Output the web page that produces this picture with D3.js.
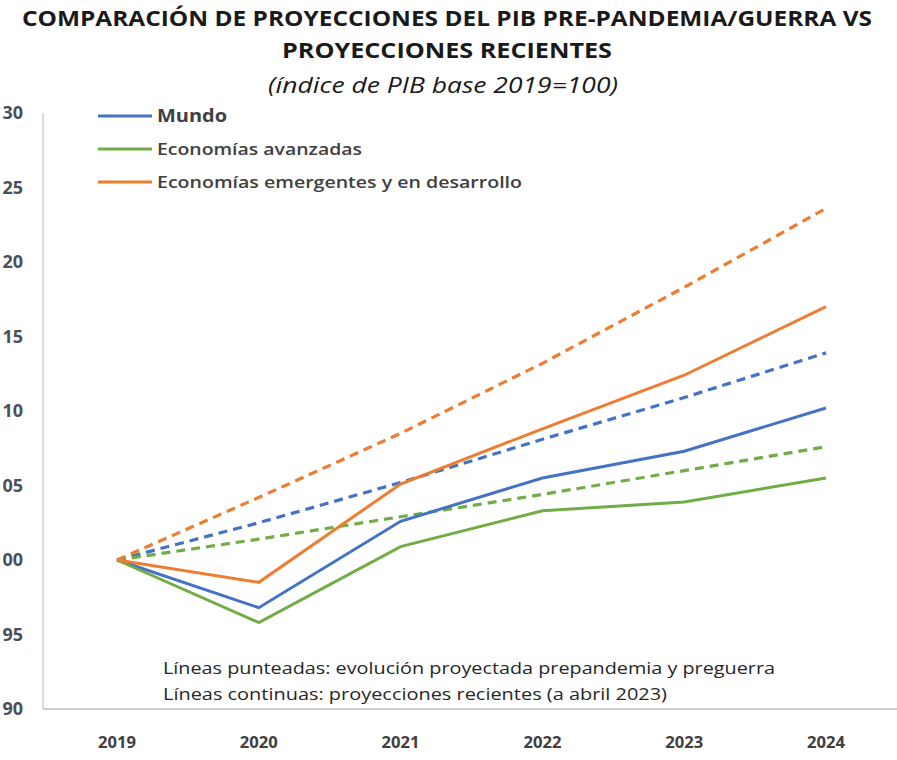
<!DOCTYPE html>
<html>
<head>
<meta charset="utf-8">
<script src="https://cdn.jsdelivr.net/npm/d3@7"></script>
<style>
  body { margin: 0; background: #fff; }
  svg { display: block; font-family: "Open Sans", "Noto Sans", sans-serif; }
</style>
</head>
<body>
<div id="chart"></div>
<script>
var years = ["2019", "2020", "2021", "2022", "2023", "2024"];
var yTicks = [90, 95, 100, 105, 110, 115, 120, 125, 130];

// solid: recent projections (April 2023)
var mundo = [100, 96.8, 102.6, 105.5, 107.3, 110.2];
var avanzadas = [100, 95.8, 100.9, 103.3, 103.9, 105.5];
var emergentes = [100, 98.5, 105.1, 108.8, 112.4, 117.0];
// dashed: pre-pandemic / pre-war projection
var mundoPre = [100, 102.5, 105.2, 108.1, 110.9, 113.9];
var avanzadasPre = [100, 101.4, 102.9, 104.4, 106.0, 107.6];
var emergentesPre = [100, 104.2, 108.5, 113.2, 118.3, 123.6];

var seriesNames = ["Mundo", "Economías avanzadas", "Economías emergentes y en desarrollo"];
var colors = ["#4472C4", "#70AD47", "#ED7D31"];

var W = 897, H = 760;
var svg = d3.select("#chart").append("svg")
  .attr("width", W)
  .attr("height", H);

var x = d3.scalePoint().domain(years).range([117, 826]);
var y = d3.scaleLinear().domain([90, 130]).range([709, 113]);

// titles
svg.append("text")
  .attr("x", 447).attr("y", 26)
  .attr("text-anchor", "middle")
  .attr("font-size", 22).attr("font-weight", "bold").attr("fill", "#1a1a1a")
  .attr("textLength", 850).attr("lengthAdjust", "spacingAndGlyphs")
  .text("COMPARACIÓN DE PROYECCIONES DEL PIB PRE-PANDEMIA/GUERRA VS");
svg.append("text")
  .attr("x", 447).attr("y", 58)
  .attr("text-anchor", "middle")
  .attr("font-size", 22).attr("font-weight", "bold").attr("fill", "#1a1a1a")
  .attr("textLength", 330).attr("lengthAdjust", "spacingAndGlyphs")
  .text("PROYECCIONES RECIENTES");
svg.append("text")
  .attr("x", 443).attr("y", 93)
  .attr("text-anchor", "middle")
  .attr("font-size", 21).attr("font-style", "italic").attr("fill", "#1a1a1a")
  .attr("textLength", 350).attr("lengthAdjust", "spacingAndGlyphs")
  .text("(índice de PIB base 2019=100)");

// axes lines
svg.append("line")
  .attr("x1", 43).attr("x2", 43).attr("y1", y(130)).attr("y2", y(90))
  .attr("stroke", "#d0d0d0").attr("stroke-width", 1.5);
svg.append("line")
  .attr("x1", 43).attr("x2", W).attr("y1", y(90)).attr("y2", y(90))
  .attr("stroke", "#bfbfbf").attr("stroke-width", 1.5);

// y tick labels (leading digit falls off the left edge, as in the original crop)
svg.selectAll("text.ytick")
  .data(yTicks)
  .enter().append("text")
  .attr("class", "ytick")
  .attr("x", 23)
  .attr("y", function(d) { return y(d) + 6; })
  .attr("text-anchor", "end")
  .attr("font-size", 18).attr("font-weight", "bold").attr("fill", "#4a4f5c")
  .text(function(d) { return d; });

// x tick labels
svg.selectAll("text.xtick")
  .data(years)
  .enter().append("text")
  .attr("class", "xtick")
  .attr("x", function(d) { return x(d); })
  .attr("y", 748)
  .attr("text-anchor", "middle")
  .attr("font-size", 16).attr("font-weight", "bold").attr("fill", "#404040")
  .attr("textLength", 38).attr("lengthAdjust", "spacingAndGlyphs")
  .text(function(d) { return d; });

var line = d3.line()
  .x(function(d, i) { return x(years[i]); })
  .y(function(d) { return y(d); });

var solid = [mundo, avanzadas, emergentes];
var dashed = [mundoPre, avanzadasPre, emergentesPre];

// dashed first, solid on top
dashed.forEach(function(s, i) {
  svg.append("path")
    .attr("d", line(s))
    .attr("fill", "none")
    .attr("stroke", colors[i])
    .attr("stroke-width", 3.2)
    .attr("stroke-dasharray", "9,6");
});
solid.forEach(function(s, i) {
  svg.append("path")
    .attr("d", line(s))
    .attr("fill", "none")
    .attr("stroke", colors[i])
    .attr("stroke-width", 3);
});

// legend
var legendW = [70, 205, 365];
seriesNames.forEach(function(name, i) {
  var ly = 116 + i * 33;
  svg.append("line")
    .attr("x1", 98).attr("x2", 152).attr("y1", ly).attr("y2", ly)
    .attr("stroke", colors[i]).attr("stroke-width", 3);
  svg.append("text")
    .attr("x", 157).attr("y", ly + 6)
    .attr("font-size", 17).attr("font-weight", i == 0 ? "bold" : "600").attr("fill", "#404040")
    .attr("textLength", legendW[i]).attr("lengthAdjust", "spacingAndGlyphs")
    .text(name);
});

// note
svg.append("text")
  .attr("x", 163).attr("y", 674)
  .attr("font-size", 17).attr("fill", "#262626")
  .attr("textLength", 612).attr("lengthAdjust", "spacingAndGlyphs")
  .text("Líneas punteadas: evolución proyectada prepandemia y preguerra");
svg.append("text")
  .attr("x", 163).attr("y", 700)
  .attr("font-size", 17).attr("fill", "#262626")
  .attr("textLength", 504).attr("lengthAdjust", "spacingAndGlyphs")
  .text("Líneas continuas: proyecciones recientes (a abril 2023)");
</script>
</body>
</html>
